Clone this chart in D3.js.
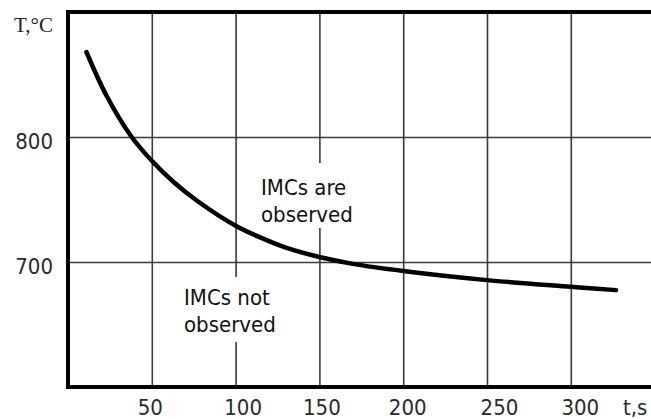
<!DOCTYPE html>
<html>
<head>
<meta charset="utf-8">
<script src="https://cdn.jsdelivr.net/npm/d3@7"></script>
<style>
  body { margin: 0; background: #fff; }
  svg { display: block; }
</style>
</head>
<body>
<svg width="651" height="419"></svg>
<script>
const width = 651, height = 419;

// curve
const timeS = [11, 23, 38, 50, 63, 77, 100, 115, 130, 150, 170, 200, 250, 300, 327];
const tempC = [868, 833, 800, 781, 764, 749, 729, 719.5, 711.5, 704, 698.5, 692.8, 685.5, 680.2, 677.5];

const xTicks = [50, 100, 150, 200, 250, 300];
const yTicks = [700, 800];
const xLabel = "t,s";
const yLabel = "T,\u00B0C";
const upperLabel = ["IMCs are", "observed"];
const lowerLabel = ["IMCs not", "observed"];

const curve = timeS.map((t, i) => ({t: t, T: tempC[i]}));

const plotLeft = 68, plotTop = 12, plotBottom = 387;
// the scanned tick labels sit a little off their grid lines
const xLabelNudge = [-2, 7, 2, 4, 12, 9];

const svg = d3.select("svg");

const x = d3.scaleLinear().domain([0, 350]).range([plotLeft, plotLeft + 1.676 * 350]);
const y = d3.scaleLinear().domain([600, 900]).range([plotBottom, plotTop]);

const tickFont = "DejaVu Sans Condensed, DejaVu Sans";

// grid
svg.append("g")
    .attr("transform", `translate(0, ${plotBottom})`)
    .call(d3.axisBottom(x).tickValues(xTicks).tickSize(-(plotBottom - plotTop)).tickFormat(""))
    .call(g => g.select(".domain").remove())
    .selectAll("line")
        .attr("stroke", "#3a3a3a")
        .attr("stroke-width", 1.6);

svg.append("g")
    .attr("transform", `translate(${plotLeft}, 0)`)
    .call(d3.axisLeft(y).tickValues(yTicks).tickSize(-(width - plotLeft)).tickFormat(""))
    .call(g => g.select(".domain").remove())
    .selectAll("line")
        .attr("stroke", "#3a3a3a")
        .attr("stroke-width", 1.6);

// white boxes behind the region labels
svg.append("rect").attr("x", 254).attr("y", 163).attr("width", 108).attr("height", 65).attr("fill", "#fff");
svg.append("rect").attr("x", 178).attr("y", 277).attr("width", 108).attr("height", 65).attr("fill", "#fff");

// tick labels
svg.append("g")
    .attr("transform", `translate(0, ${plotBottom})`)
    .call(d3.axisBottom(x).tickValues(xTicks).tickSize(0).tickPadding(12))
    .call(g => g.select(".domain").remove())
    .selectAll("text")
        .attr("dx", (d, i) => xLabelNudge[i])
        .attr("font-family", tickFont)
        .attr("font-stretch", "condensed")
        .attr("font-size", "22px")
        .attr("fill", "#2a2a2a");

svg.append("g")
    .attr("transform", `translate(${plotLeft}, 0)`)
    .call(d3.axisLeft(y).tickValues(yTicks).tickSize(0).tickPadding(15))
    .call(g => g.select(".domain").remove())
    .selectAll("text")
        .attr("dy", "0.5em")
        .attr("font-family", tickFont)
        .attr("font-stretch", "condensed")
        .attr("font-size", "22px")
        .attr("fill", "#2a2a2a");

svg.append("text")
    .attr("x", 623).attr("y", 415)
    .attr("font-family", tickFont)
    .attr("font-stretch", "condensed")
    .attr("font-size", "22px")
    .attr("fill", "#2a2a2a")
    .text(xLabel);

svg.append("text")
    .attr("x", 14).attr("y", 32)
    .attr("font-family", "Liberation Serif")
    .attr("font-size", "21px")
    .attr("fill", "#222")
    .text(yLabel);

// frame: left, top, bottom
svg.append("path")
    .attr("d", `M${width},${plotTop} H${plotLeft} V${plotBottom} H${width}`)
    .attr("fill", "none")
    .attr("stroke", "#000")
    .attr("stroke-width", 4);

// curve
svg.append("path")
    .datum(curve)
    .attr("fill", "none")
    .attr("stroke", "#000")
    .attr("stroke-width", 4.5)
    .attr("stroke-linecap", "round")
    .attr("d", d3.line().x(d => x(d.t)).y(d => y(d.T)).curve(d3.curveCatmullRom.alpha(0.5)));

// region labels
function region(lines, lx, ly) {
    const t = svg.append("text")
        .attr("font-family", "DejaVu Sans Condensed, DejaVu Sans")
        .attr("font-stretch", "condensed")
        .attr("font-size", "22px")
        .attr("fill", "#111");
    lines.forEach((s, i) => {
        t.append("tspan").attr("x", lx).attr("y", ly + i * 27).text(s);
    });
}
region(upperLabel, 261, 195);
region(lowerLabel, 184, 305);
</script>
</body>
</html>
